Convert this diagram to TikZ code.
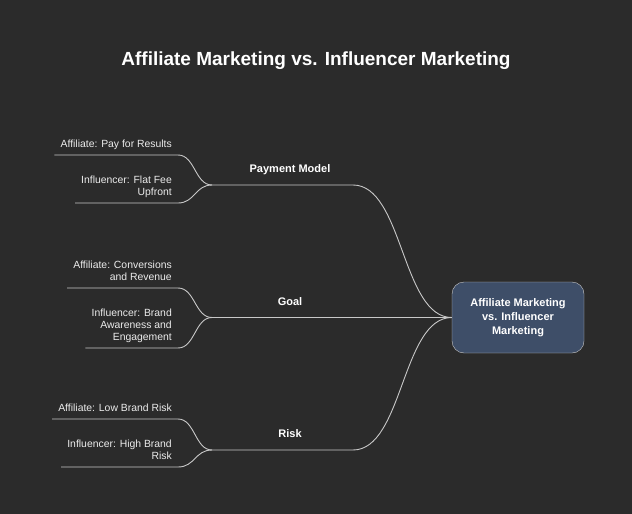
\documentclass[tikz,border=0pt]{standalone}
\usepackage{fontspec}
\setmainfont{Liberation Sans}
\usetikzlibrary{positioning}
\definecolor{bg}{RGB}{43,43,43}
\definecolor{rootfill}{RGB}{62,78,104}
\definecolor{edge}{RGB}{200,200,200}
\definecolor{txt}{RGB}{236,236,236}

\begin{document}
\begin{tikzpicture}[x=1pt, y=-1pt]
          \tikzset{ lf/.style ={text=txt, font=\fontsize{10.4}{12}\selectfont, align=right, inner xsep=6pt, inner ysep=3.8pt, anchor=south east} }
          \tikzset{ br/.style ={text=white, font=\bfseries\fontsize{11}{13}\selectfont} }
          \tikzset{ rt/.style ={draw=edge, fill=rootfill, rounded corners=12pt, text=white, align=center, minimum width=132pt, minimum height=71pt, font=\bfseries\fontsize{11}{14}\selectfont} }
          \tikzset{ ln/.style ={draw=edge, line width=0.9pt} }

          \fill[bg] (0,0) rectangle (632,514);

          \node[text=white, font=\bfseries\fontsize{19}{22}\selectfont] (title) at (316, 61) {Affiliate Marketing vs. Influencer Marketing};

          \node[rt] (root) at (518, 317.5) {Affiliate Marketing\\vs. Influencer\\Marketing};

          % branches
          \node[br] (pm) at (290, 169.5) {Payment Model};
          \coordinate (pm_in)  at (212, 185);
          \coordinate (pm_out) at (353, 185);
          \node[br] (gl) at (290, 301.5) {Goal};
          \coordinate (gl_in)  at (212, 317.5);
          \node[br] (rk) at (290, 433.5) {Risk};
          \coordinate (rk_in)  at (212, 450);
          \coordinate (rk_out) at (353, 450);

          % leaves
          \node[lf] (pm_a) at (178, 155) {Affiliate: Pay for Results\strut};
          \node[lf] (pm_i) at (178, 203) {Influencer: Flat Fee\\Upfront\strut};
          \node[lf] (gl_a) at (178, 288) {Affiliate: Conversions\\and Revenue\strut};
          \node[lf] (gl_i) at (178, 348) {Influencer: Brand\\Awareness and\\Engagement\strut};
          \node[lf] (rk_a) at (178, 419) {Affiliate: Low Brand Risk\strut};
          \node[lf] (rk_i) at (178, 467) {Influencer: High Brand\\Risk\strut};

          \draw[ln] (pm_in) -- (pm_out) .. controls +(50,0) and +(-50,0) .. (root.west);
          \draw[ln] (gl_in) -- (root.west);
          \draw[ln] (rk_in) -- (rk_out) .. controls +(50,0) and +(-50,0) .. (root.west);

          \draw[ln] (pm_a.south west) -- (pm_a.south east) .. controls +(17,0) and +(-17,0) .. (pm_in);
          \draw[ln] (pm_i.south west) -- (pm_i.south east) .. controls +(17,0) and +(-17,0) .. (pm_in);
          \draw[ln] (gl_a.south west) -- (gl_a.south east) .. controls +(17,0) and +(-17,0) .. (gl_in);
          \draw[ln] (gl_i.south west) -- (gl_i.south east) .. controls +(17,0) and +(-17,0) .. (gl_in);
          \draw[ln] (rk_a.south west) -- (rk_a.south east) .. controls +(17,0) and +(-17,0) .. (rk_in);
          \draw[ln] (rk_i.south west) -- (rk_i.south east) .. controls +(17,0) and +(-17,0) .. (rk_in);
      \end{tikzpicture}
\end{document}
